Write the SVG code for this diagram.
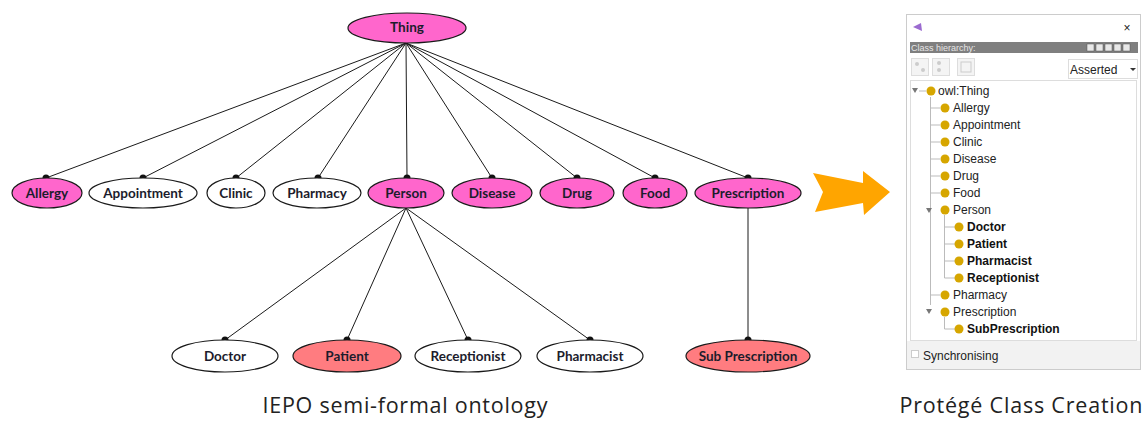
<svg xmlns="http://www.w3.org/2000/svg" width="1147" height="421" viewBox="0 0 1147 421">
<style>
.n ellipse{stroke:#1a1a1a;stroke-width:1.2}
.w{fill:#fff}
.m{fill:#FF66CC}
.s{fill:#FF7C80}
.n text{font-family:Lato,"Liberation Sans",sans-serif;font-weight:bold;font-size:13.5px;text-anchor:middle;fill:#1c1c2c}
.c line{stroke:#1a1a1a;stroke-width:1}
.c circle{fill:#111}
.t{font-family:"Liberation Sans",Arial,sans-serif;font-size:12px;fill:#222}
.tb{font-family:"Liberation Sans",Arial,sans-serif;font-size:12px;font-weight:bold;fill:#111}
.d{fill:#D6A600}
.tl{stroke:#bbb;stroke-width:1;fill:none}
.cap{font-family:"Open Sans","Liberation Sans",sans-serif;font-size:21.5px;fill:#222;text-anchor:middle}
</style>
<rect width="1147" height="421" fill="#fff"/>
<g id="connectors" class="c">
<line x1="406" y1="43" x2="46" y2="178"/>
<line x1="406" y1="43" x2="143" y2="178"/>
<line x1="406" y1="43" x2="236" y2="178"/>
<line x1="406" y1="43" x2="318" y2="178"/>
<line x1="406" y1="43" x2="407" y2="178"/>
<line x1="406" y1="43" x2="492" y2="178"/>
<line x1="406" y1="43" x2="577" y2="178"/>
<line x1="406" y1="43" x2="655" y2="178"/>
<line x1="406" y1="43" x2="748" y2="178"/>
<line x1="406" y1="208" x2="225" y2="340"/>
<line x1="406" y1="208" x2="347" y2="340"/>
<line x1="406" y1="208" x2="468" y2="340"/>
<line x1="406" y1="208" x2="590" y2="340"/>
<line x1="748" y1="208" x2="748" y2="340"/>
<circle cx="46" cy="178" r="3.5"/>
<circle cx="143" cy="178" r="3.5"/>
<circle cx="236" cy="178" r="3.5"/>
<circle cx="318" cy="178" r="3.5"/>
<circle cx="407" cy="178" r="3.5"/>
<circle cx="492" cy="178" r="3.5"/>
<circle cx="577" cy="178" r="3.5"/>
<circle cx="655" cy="178" r="3.5"/>
<circle cx="748" cy="178" r="3.5"/>
<circle cx="225" cy="340" r="3.5"/>
<circle cx="347" cy="340" r="3.5"/>
<circle cx="468" cy="340" r="3.5"/>
<circle cx="590" cy="340" r="3.5"/>
<circle cx="748" cy="340" r="3.5"/>
</g>
<g id="thing" class="n"><ellipse class="m" cx="407" cy="28" rx="59" ry="15"/><text x="407" y="32">Thing</text></g>
<g id="allergy" class="n"><ellipse class="m" cx="47" cy="193" rx="35" ry="15"/><text x="47" y="198">Allergy</text></g>
<g id="appointment" class="n"><ellipse class="w" cx="143" cy="193" rx="54" ry="15"/><text x="143" y="198">Appointment</text></g>
<g id="clinic" class="n"><ellipse class="w" cx="236" cy="193" rx="29" ry="15"/><text x="236" y="198">Clinic</text></g>
<g id="pharmacy" class="n"><ellipse class="w" cx="317" cy="193" rx="44" ry="15"/><text x="317" y="198">Pharmacy</text></g>
<g id="person" class="n"><ellipse class="m" cx="406" cy="193" rx="38" ry="15"/><text x="406" y="198">Person</text></g>
<g id="disease" class="n"><ellipse class="m" cx="492" cy="193" rx="40" ry="15"/><text x="492" y="198">Disease</text></g>
<g id="drug" class="n"><ellipse class="m" cx="577" cy="193" rx="37" ry="15"/><text x="577" y="198">Drug</text></g>
<g id="food" class="n"><ellipse class="m" cx="655" cy="193" rx="32" ry="15"/><text x="655" y="198">Food</text></g>
<g id="prescription" class="n"><ellipse class="m" cx="748" cy="193" rx="53" ry="15"/><text x="748" y="198">Prescription</text></g>
<g id="doctor" class="n"><ellipse class="w" cx="225" cy="356" rx="53" ry="16"/><text x="225" y="361">Doctor</text></g>
<g id="patient" class="n"><ellipse class="s" cx="347" cy="356" rx="54" ry="16"/><text x="347" y="361">Patient</text></g>
<g id="receptionist" class="n"><ellipse class="w" cx="468" cy="356" rx="53" ry="16"/><text x="468" y="361">Receptionist</text></g>
<g id="pharmacist" class="n"><ellipse class="w" cx="590" cy="356" rx="53" ry="16"/><text x="590" y="361">Pharmacist</text></g>
<g id="subprescription" class="n"><ellipse class="s" cx="748" cy="356" rx="62" ry="16"/><text x="748" y="361">Sub Prescription</text></g>
<g id="arrow"><polygon points="813,173 863,183 863,171 890,192 864,215 863,203 815,212 823,192" fill="#FFA500"/></g>
<g id="protege">
<rect x="906.5" y="14.5" width="234" height="355" fill="#fff" stroke="#ccc"/>
<polygon points="913,27 921,23 922,31" fill="#9b6bd0"/>
<text x="1127" y="32" class="t" font-size="13" text-anchor="middle" fill="#444">×</text>
<rect x="910" y="42" width="228" height="11" fill="#7f7f7f"/>
<text x="911" y="51" font-family="Liberation Sans,Arial,sans-serif" font-size="9" fill="#e6e6e6">Class hierarchy:</text>
<g fill="#e8e8e8" stroke="#555" stroke-width="0.5">
<rect x="1087" y="44" width="7" height="7"/><rect x="1096" y="44" width="7" height="7"/><rect x="1105" y="44" width="7" height="7"/><rect x="1114" y="44" width="7" height="7"/><rect x="1123" y="44" width="7" height="7"/>
</g>
<g fill="#f4f4f4" stroke="#ddd">
<rect x="911.5" y="58.5" width="17" height="17"/><rect x="932.5" y="58.5" width="17" height="17"/><rect x="957.5" y="58.5" width="17" height="17"/>
</g>
<g fill="#ccc"><circle cx="917" cy="64" r="2"/><circle cx="923" cy="70" r="2"/><circle cx="939" cy="63" r="2"/><circle cx="939" cy="70" r="2"/></g>
<rect x="961" y="62" width="10" height="10" fill="none" stroke="#ccc"/>
<rect x="1068.5" y="59.5" width="69" height="19" fill="#fff" stroke="#ddd"/>
<text x="1070" y="74" class="t" font-size="13" fill="#111">Asserted</text>
<polygon points="1130,68 1136,68 1133,71" fill="#333"/>
<rect x="910.5" y="80.5" width="226" height="260" fill="#fff" stroke="#ddd"/>
<rect x="907" y="341" width="233" height="28" fill="#f2f2f2"/>
<rect x="911.5" y="350.5" width="7" height="7" fill="#fff" stroke="#ccc"/>
<text x="923" y="360" class="t" font-size="12.5">Synchronising</text>
<path class="tl" d="M930.5 97V295M930.5 108H940M930.5 125H940M930.5 142H940M930.5 159H940M930.5 176H940M930.5 193H940M930.5 295H940M919 91H926M944.5 215V278M944.5 227H955M944.5 244H955M944.5 261H955M944.5 278H955M944.5 317V329H955M930.5 295V305"/>
<polygon points="912,88 918,88 915,93" fill="#777"/>
<polygon points="926,208 932,208 929,213" fill="#777"/>
<polygon points="926,309 932,309 929,314" fill="#777"/>
<g class="d">
<circle cx="931" cy="91" r="4.5"/><circle cx="945" cy="108" r="4.5"/><circle cx="945" cy="125" r="4.5"/><circle cx="945" cy="142" r="4.5"/><circle cx="945" cy="159" r="4.5"/><circle cx="945" cy="176" r="4.5"/><circle cx="945" cy="193" r="4.5"/><circle cx="945" cy="210" r="4.5"/><circle cx="959" cy="227" r="4.5"/><circle cx="959" cy="244" r="4.5"/><circle cx="959" cy="261" r="4.5"/><circle cx="959" cy="278" r="4.5"/><circle cx="945" cy="295" r="4.5"/><circle cx="945" cy="312" r="4.5"/><circle cx="959" cy="329" r="4.5"/>
</g>
<text class="t" x="938" y="95">owl:Thing</text>
<text class="t" x="953" y="112">Allergy</text>
<text class="t" x="953" y="129">Appointment</text>
<text class="t" x="953" y="146">Clinic</text>
<text class="t" x="953" y="163">Disease</text>
<text class="t" x="953" y="180">Drug</text>
<text class="t" x="953" y="197">Food</text>
<text class="t" x="953" y="214">Person</text>
<text class="tb" x="967" y="231">Doctor</text>
<text class="tb" x="967" y="248">Patient</text>
<text class="tb" x="967" y="265">Pharmacist</text>
<text class="tb" x="967" y="282">Receptionist</text>
<text class="t" x="953" y="299">Pharmacy</text>
<text class="t" x="953" y="316">Prescription</text>
<text class="tb" x="967" y="333">SubPrescription</text>
</g>
<text class="cap" x="405" y="413" textLength="285" lengthAdjust="spacing">IEPO semi-formal ontology</text>
<text class="cap" x="1021" y="413" textLength="243" lengthAdjust="spacing">Protégé Class Creation</text>
</svg>
